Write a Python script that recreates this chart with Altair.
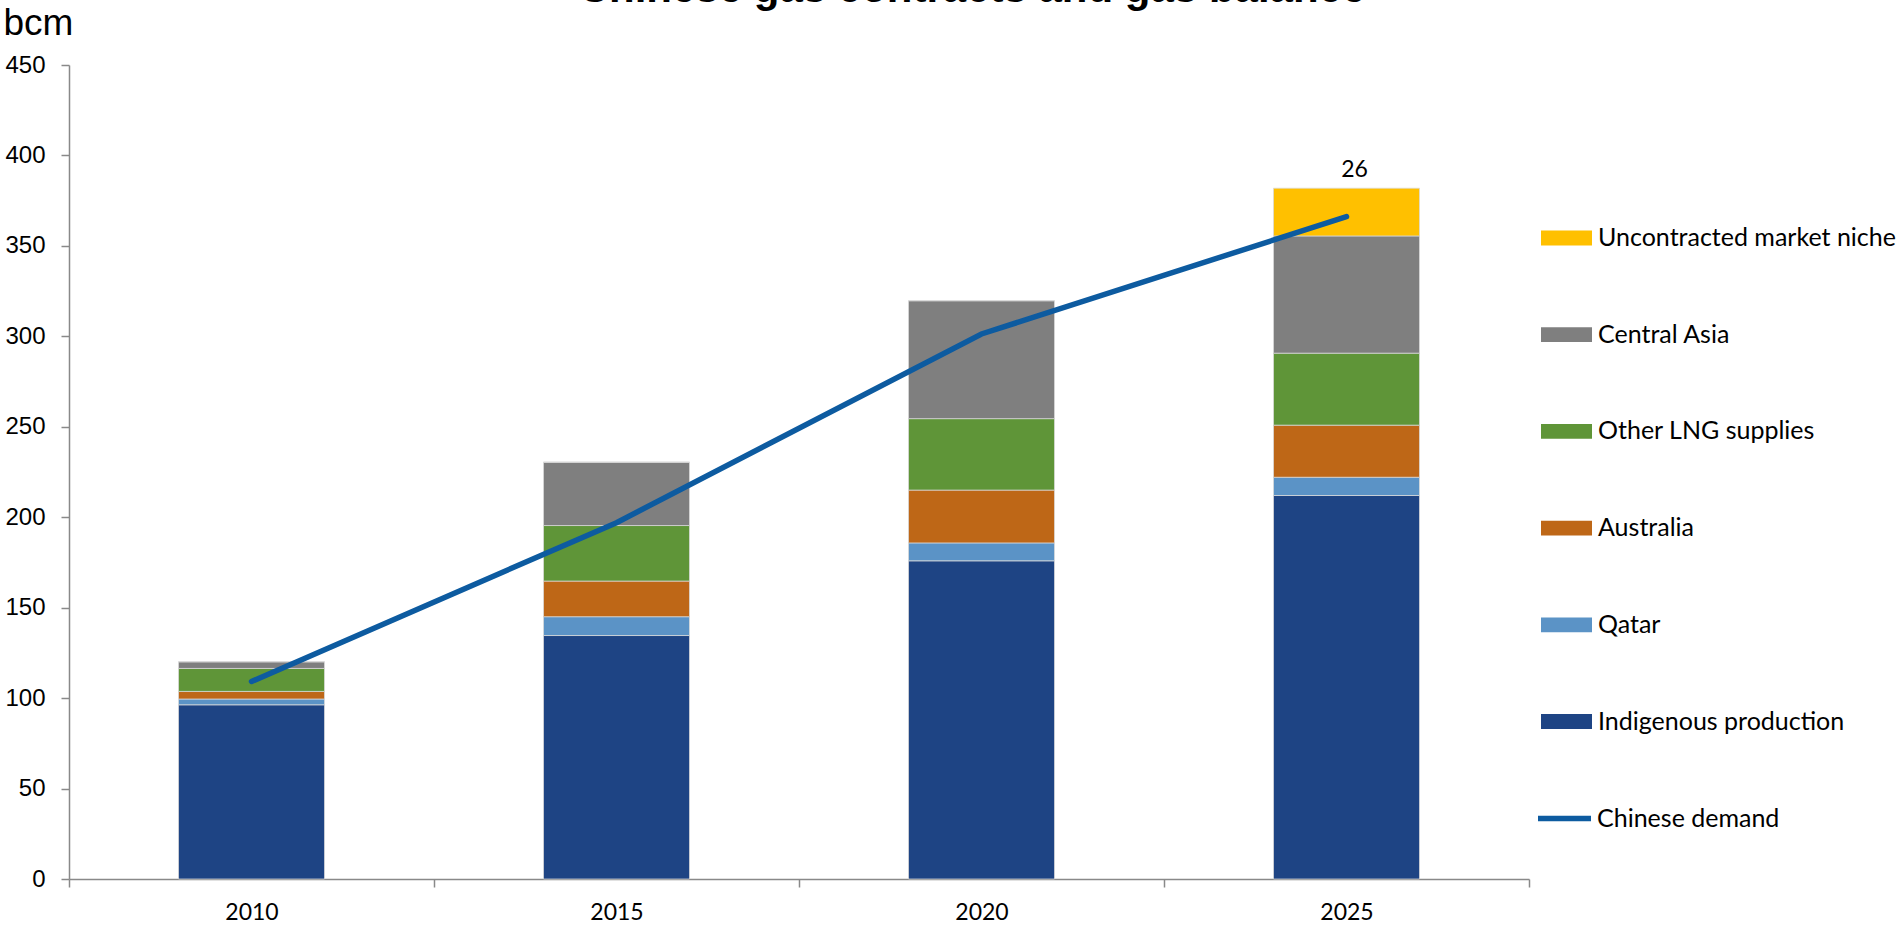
import altair as alt
import pandas as pd

# ---- data ----
years = ["2010", "2015", "2020", "2025"]
indigenous = [96.3, 134.6, 175.9, 212.0]
qatar = [3.2, 10.4, 9.9, 10.1]
australia = [4.2, 19.7, 29.2, 28.8]
other_lng = [12.7, 30.7, 39.5, 39.8]
central_asia = [3.7, 35.0, 65.2, 64.8]
uncontracted = [0.0, 0.0, 0.0, 26.4]
demand = [109.2, 197.0, 301.3, 366.2]

series_names = ["Indigenous production", "Qatar", "Australia",
                "Other LNG supplies", "Central Asia", "Uncontracted market niche"]
series_values = [indigenous, qatar, australia, other_lng, central_asia, uncontracted]
series_colors = ["#1E4484", "#5B93C6", "#BE6717", "#5F9538", "#7F7F7F", "#FFC000"]

rows = []
for k, (name, vals) in enumerate(zip(series_names, series_values)):
    for yr, v in zip(years, vals):
        rows.append({"year": yr, "series": name, "value": v, "stack_order": k})
df_bars = pd.DataFrame(rows)

df_line = pd.DataFrame({"year": years, "demand": demand, "series": "Chinese demand"})

totals = [sum(v[i] for v in series_values) for i in range(len(years))]
df_label = pd.DataFrame({
    "year": [years[i] for i in range(len(years)) if uncontracted[i] > 0],
    "total": [totals[i] for i in range(len(years)) if uncontracted[i] > 0],
    "label": [str(int(uncontracted[i])) for i in range(len(years)) if uncontracted[i] > 0],
})

legend_order = series_names[::-1]
legend_colors = series_colors[::-1]

AXIS_GRAY = "#898989"

x_enc = alt.X(
    "year:N",
    title=None,
    scale=alt.Scale(paddingInner=0, paddingOuter=0),
    axis=alt.Axis(
        labelAngle=0, labelFont="Lato", labelFontSize=23, labelColor="black",
        labelPadding=14, tickBand="extent", tickSize=8, tickColor=AXIS_GRAY,
        tickWidth=1.5, domainColor=AXIS_GRAY, domainWidth=1.5, grid=False,
    ),
)

bars = alt.Chart(df_bars).mark_bar(
    stroke="#d9d9d9", strokeWidth=0.75, width=alt.RelativeBandSize(0.4)
).encode(
    x=x_enc,
    y=alt.Y(
        "value:Q",
        stack="zero",
        scale=alt.Scale(domain=[0, 450], nice=False),
        axis=alt.Axis(
            values=list(range(0, 451, 50)), grid=False,
            labelFont="Liberation Sans", labelFontSize=24, labelColor="black",
            labelPadding=16, tickSize=8, tickColor=AXIS_GRAY, tickWidth=1.5,
            domainColor=AXIS_GRAY, domainWidth=1.5,
            title="bcm", titleAngle=0, titleAlign="left", titleBaseline="alphabetic",
            titleX=-66, titleY=-31, titleFont="Liberation Sans", titleFontSize=37,
            titleFontWeight="normal", titleColor="black",
        ),
    ),
    color=alt.Color(
        "series:N",
        scale=alt.Scale(domain=legend_order, range=legend_colors),
        legend=alt.Legend(
            title=None, orient="none", legendX=1472, legendY=147.5,
            symbolType="M-1,-0.29H1V0.29H-1Z", symbolSize=2601, symbolStrokeWidth=0,
            labelFont="Lato", labelFontSize=25, labelColor="black", labelOffset=6,
            rowPadding=57.7, padding=0, labelLimit=500,
        ),
    ),
    order=alt.Order("stack_order:Q", sort="ascending"),
)

line = alt.Chart(df_line).mark_line(strokeWidth=5.5, strokeCap="round").encode(
    x=alt.X("year:N"),
    y=alt.Y("demand:Q"),
    stroke=alt.Stroke(
        "series:N",
        scale=alt.Scale(domain=["Chinese demand"], range=["#0D5BA0"]),
        legend=alt.Legend(
            title=None, orient="none", legendX=1466, legendY=724,
            symbolType="stroke", symbolSize=2809, symbolStrokeWidth=5.5,
            labelFont="Lato", labelFontSize=25, labelColor="black", labelOffset=3,
            padding=0, labelLimit=500,
        ),
    ),
)

labels = alt.Chart(df_label).mark_text(
    font="Lato", fontSize=23, dy=-11, dx=8, baseline="alphabetic", color="black"
).encode(
    x=alt.X("year:N"),
    y=alt.Y("total:Q"),
    text="label:N",
)

chart = alt.layer(bars, line, labels).properties(
    width=1460,
    height=814,
    background="white",
    title=alt.TitleParams(
        text="Chinese gas contracts and gas balance",
        font="Liberation Sans", fontSize=42, fontWeight="bold", color="black",
        anchor="middle", dx=173, dy=11,
    ),
    autosize=alt.AutoSizeParams(type="none"),
    padding={"left": 69, "top": 65, "right": 367, "bottom": 46},
).configure_view(strokeWidth=0, stroke=None)

chart.save("out.html", embed_options={"renderer": "svg", "actions": False})
